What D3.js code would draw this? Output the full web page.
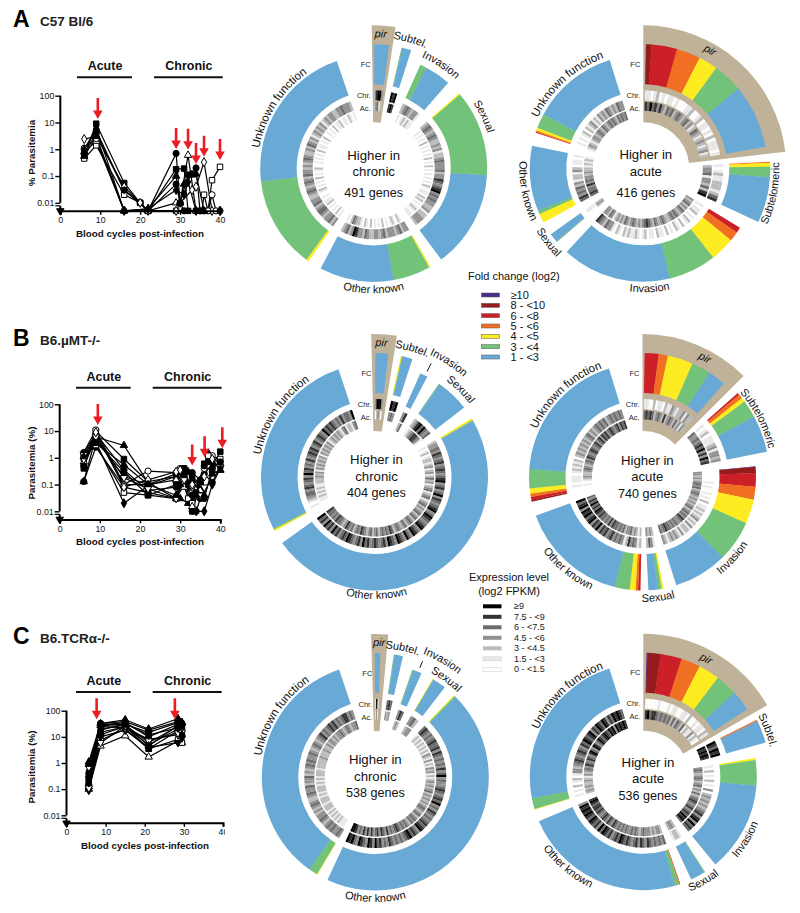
<!DOCTYPE html>
<html><head><meta charset="utf-8">
<script src="https://cdnjs.cloudflare.com/ajax/libs/d3/7.8.5/d3.min.js"></script>
<style>html,body{margin:0;background:#fff}svg{display:block;font-family:"Liberation Sans",Arial,sans-serif}</style>
</head><body><svg id="c" width="800" height="913"></svg>
<script>
// ---------- legends ----------
const foldLabels=["≥10","8 - <10","6 - <8","5 - <6","4 - <5","3 - <4","1 - <3"];
const foldColors=["#4b2c8e","#961b1f","#cc2028","#f16f23","#fcec21","#73c279","#69a9d6"];
const exprLabels=["≥9","7.5 - <9","6 - <7.5","4.5 - <6","3 - <4.5","1.5 - <3","0 - <1.5"];
const exprColors=["#000000","#333333","#6b6b6b","#909090","#bbbbbb","#e9e9e9","#ffffff"];

// ---------- gene-class sectors, one block per donut ----------
// starts in degrees clockwise from 12 o'clock; widths in degrees per fold class (≥10 ... 1-<3);
// Chr / Ac strings: expression class per stretch of the ring (0 = lowest, 6 = highest)
const aChrNames=["pir","Subtel.","Invasion","Sexual","Other known","Unknown function"];
const aChrStart=[0,13,24.3,48.7,150,215];
const aChrWidth=[[0,0,0,0,0,.3,6.8],[0,0,0,0,0,.4,4.2],[0,0,0,0,0,3.4,13.3],[0,0,0,0,.8,44,50],[0,0,0,0,.8,19,38.1],[0,0,0,0,1.4,46.9,77.7]];
const aChrPush=[7,7,0,0,0,0];
const aChrChr=["25663","656","23432331","23432343223231223433342335434563434332231223332","33243233324323322342335632432","324332344324332234323432433232343223243231232323123233223343332"];
const aChrAc=["23412","565","10121211","01010102010101020102010101010210110212010121011","01201210102010102012012234201","102010102110100120101020101200101010201101020010102011201102101"];
const aChrLabelAngle=[3,16,33,64.8,180,302.5];
const aChrLabelR=[131,131,121,119,125,116];

const aAcuNames=["pir","Subtelomeric","Invasion","Sexual","Other known","Unknown function"];
const aAcuStart=[1.2,87,121.6,229.5,241.5,288.3];
const aAcuWidth=[[0,2.6,12,11.2,9,14,30],[0,0,0,.5,1.8,4.7,21],[0,0,2.8,5,12.5,24.5,56],[0,0,0,0,0,.5,4.5],[0,0,0,0,4.8,1.7,33.5],[0,0,.4,.8,1.5,7.5,44.3]];
const aAcuPush=[7,9,0,0,0,0];
const aAcuChr=["11012010110100011200120110102011101","1012112221245","1011201021020120102011201102101211212012013342345","011","4534342312213201101","010101202123121323243232433"];
const aAcuAc=["54645353243423432342312432123212312","233413324256","3234232432343432234323423454323234323423232134233","232","4544353433232212121","123212332343243234343243434"];
const aAcuLabelAngle=[29.5,101,177,232,259,318];
const aAcuLabelR=[132,136,124,124,124,117];

const bChrNames=["pir","Subtel.","Invasion","Sexual","Other known","Unknown function"];
const bChrStart=[.3,12.3,23.8,34.6,58.9,241.6];
const bChrWidth=[[0,0,0,0,0,.4,5.7],[0,0,0,0,.5,.3,4.7],[0,0,0,0,0,0,4],[0,0,0,0,0,.5,17.1],[0,0,0,0,1,.4,174.2],[0,0,0,0,.8,.8,98.3]];
const bChrPush=[7,7,0,0,0,0];
const bChrChr=["36663","656","35","235646434","2334354345345434563453463543456346543456345634634563456354345435463543456454354635463546","01012344354345364534353454534534543645454343534436"];
const bChrAc=["02320","343","24","123455431","1012012212312312423123412341234232342342343243234324534343243243234534324345323445343445","00112121211222323132323231323232312323232134122134"];
const bChrLabelAngle=[3,16.4,33,44.5,179,303.5];
const bChrLabelR=[131,131,134,120,122,116];
const bChrPointer=[26.5,118,127];

const bAcuNames=["pir","Subtelomeric","Invasion","Sexual","Other known","Unknown function"];
const bAcuStart=[1,48.6,84.6,169.3,181,257.4];
const bAcuWidth=[[0,0,6.5,4.3,12,8.8,8.4],[0,0,.9,2,2,8,17],[.2,3.2,6.9,6.6,12.5,21,27.7],[0,0,0,0,1,1.7,5],[0,0,1.2,1.3,3,7.7,55.9],[0,.9,1.5,1.7,2.7,9.8,68.8]];
const bAcuPush=[7,9,0,0,0,0];
const bAcuChr=["1100201102113212231322","101201112313323","000001010010102011212123121312213123232123","1342","21343521343435435453645365465636546","0010111012121202323232323423234343423434343"];
const bAcuAc=["4545423432523432423132","433434546353645","3323234342343232323423434354334343445434","2323","21232433243434453534344545645464534","0010123223432343543454345345354534543453545"];
const bAcuLabelAngle=[27.6,63.2,132,172.6,219,317];
const bAcuLabelR=[131,129,125,125,124,116];

const cChrNames=["pir","Subtel.","Invasion","Sexual","Other known","Unknown function"];
const cChrStart=[-.2,8.6,19,30.3,43.9,210.6];
const cChrWidth=[[0,0,0,0,0,0,2.6],[0,0,0,0,0,.4,3.9],[0,0,0,0,0,.6,4.4],[0,0,0,0,.4,.1,7],[0,0,0,0,.5,.8,159.7],[0,0,0,0,.4,4.6,125.8]];
const cChrPush=[7,7,0,0,0,0];
const cChrChr=["0660","454","354","342","45434345445354343435346343345434546343543434545634546543434345343546356345634656","34334343234332323432234334233423234343343234323453434545343455343"];
const cChrAc=["0330","323","232","233","12121212121321312132312123232342323232343234234342343434543435345354353535343566","01112121212122212221212221212122212222232223223233232334323432334"];
const cChrLabelAngle=[1.6,12,30,36,180,303];
const cChrLabelR=[131,129,132,118,125,116];
const cChrPointer=[22.2,118,125];

const cAcuNames=["pir","Subtel.","Invasion","Sexual","Other known","Unknown function"];
const cAcuStart=[1.5,63.3,80.5,147,161,253.1];
const cAcuWidth=[[.4,6.1,10,9,10,10.4,9.6],[0,0,0,.7,0,0,10.4],[0,0,0,0,1,12.9,46.2],[0,0,0,0,0,.6,7.4],[0,0,.2,.4,0,2.2,83.1],[0,0,0,0,.4,5.5,83.6]];
const cAcuPush=[7,9,0,0,0,0];
const cAcuChr=["0000010001011001102001011021","654656","102010201030232323234535636454","1221","4343434534535434545645435456463545645656563","101020120133234543454354654563546546535465654"];
const cAcuAc=["5645543434342424324121131210","656565","343234323423242345434534546564","2332","2332323334323434334343434534534543454554565","232322321323435435435643653465456546563656565"];
const cAcuLabelAngle=[28,69.5,121.5,150,220,317];
const cAcuLabelR=[130,130,124,124,123,115];

// ---------- parasitemia series: [day, % parasitemia]; 0.005 = below detection ----------
const aLines=[
[[6,.6],[9,9],[16,.055],[20,.01],[22,.005],[29,.18],[31,.19],[32,.005],[34,.005]],
[[6,.45],[9,1.4],[16,.02],[20,.01],[22,.005],[29,.005],[35.5,.005],[36,.02],[37,.005],[38,.07],[40,.22]],
[[6,1],[9,5],[16,.03],[20,.01],[22,.005],[29,.7],[30,.01],[31,.005],[36,.005]],
[[6,.8],[9,2],[16,.005],[22,.005],[29,.01],[30,.01],[32,.6],[34,.005],[37,.005]],
[[6,2.4],[9,3],[16,.04],[20,.01],[22,.005],[29,.005],[30,.01],[33,.03],[34,.04],[36,.33],[38,.005],[40,.005]],
[[6,.7],[9,4],[16,.03],[22,.005],[29,.05],[30,.01],[32,.11],[33,.12],[34,.2],[35,.005]],
[[6,1.1],[9,2.5],[16,.005],[22,.005],[37,.005],[38,.02],[39,.005],[40,.005]],
[[6,1],[9,6],[16,.005],[22,.006],[29,.03],[31,.02],[32,.06],[34,.005],[40,.005]],
[[6,.55],[9,3],[16,.005],[22,.006],[29,.1],[30,.01],[31,.05],[33,.11],[34,.12],[36,.005]],
[[0,.005]]];
const aShapes=["S","s","H","t","d","C","c","D","T","V"];
const aArrowDays=[9.4,29,32,34,36,40];
const aArrowTips=[13.5,1.03,.95,.28,.52,.4];

const bLines=[
[[6,.13],[9,2.5],[16,.08],[22,.05],[29,.03],[31,.2],[33,.01],[34,.01],[35,.03],[36,.25],[38,.12],[40,.5]],
[[6,.13],[9,6],[16,2.9],[22,.12],[29,.03],[30,.03],[32,.02],[33,.15],[35,.05],[37,1.5],[40,.35]],
[[6,.4],[9,10],[16,.9],[22,.13],[29,.2],[31,.3],[33,.2],[35,.1],[36,.6],[38,.5],[40,1.7]],
[[6,1.6],[9,11],[16,.1],[22,.32],[29,.28],[30,.4],[31,.4],[33,.05],[36,.4],[38,1.2],[40,.5]],
[[6,.8],[9,4],[16,.02],[22,.09],[29,.2],[31,.15],[33,.03],[34,.01],[36,.01],[38,.1],[40,.4]],
[[6,1.2],[9,3],[16,.05],[22,.04],[29,.03],[31,.1],[32,.03],[33,.02],[35,.1],[37,1.2],[40,.9]],
[[6,.7],[9,7],[16,.1],[22,.1],[29,.15],[31,.08],[33,.015],[35,.06],[37,.5],[40,.6]],
[[6,1.5],[9,8],[16,.35],[22,.06],[29,.08],[31,.3],[33,.28],[35,.15],[36,.5],[38,.3]],
[[6,.5],[9,5],[16,.2],[22,.1],[29,.25],[31,.25],[33,.04],[34,.05],[36,.03],[38,.4],[40,.7]],
[[6,1],[9,4],[16,.3],[22,.04],[29,.1],[31,.4],[32,.1],[33,.01],[35,.1],[37,.7]],
[[6,1.3],[9,6],[16,.18],[22,.07],[29,.03],[31,.15],[33,.08],[35,.04],[36,.08]],
[[6,.9],[9,9],[16,.08],[22,.15],[29,.3],[30,.35],[33,.1],[36,.2],[38,.9]],
[[6,1.1],[9,3.5],[16,.55],[22,.1],[29,.04],[30,.1],[32,.3],[34,.04],[36,.04],[38,.25],[40,.35]],
[[0,.005]]];
const bShapes=["C","T","S","c","D","s","t","H","C","S","v","d","T","V"];
const bArrowDays=[9.5,33,36.1,40.5];
const bArrowTips=[16.8,.51,1.05,2.26];

const cLines=[
[[5.7,.1],[8.7,4.5],[15,11],[21,1.7],[28.5,7],[29.5,6]],
[[5.7,.2],[8.7,7.5],[15,20],[21,3.5],[28.5,8],[29.5,6]],
[[5.7,1.1],[8.7,32],[15,45],[21,20],[28.5,50],[29.5,35]],
[[5.7,.12],[8.7,12],[15,25],[21,3.5],[28.5,17],[29.5,12]],
[[5.7,.3],[8.7,28],[15,35],[21,10],[28.5,30],[29.5,33]],
[[5.7,.5],[8.7,20],[15,28],[21,6],[28.5,25],[29.5,20]],
[[5.7,.09],[8.7,10],[15,18],[21,4],[28.5,6],[29.5,9]],
[[5.7,.15],[8.7,30],[15,30],[21,15],[28.5,35],[29.5,28]],
[[5.7,.7],[8.7,25],[15,22],[21,8],[28.5,12],[29.5,18]],
[[5.7,.25],[8.7,15],[15,24],[21,5],[28.5,20],[29.5,25]],
[[5.7,.4],[8.7,33],[15,38],[21,18],[28.5,38],[29.5,30]],
[[5.7,.11],[8.7,6],[15,26],[21,7],[28.5,14],[29.5,15]],
[[5.7,.18],[8.7,18],[15,32],[21,12],[28.5,22],[29.5,12]],
[[5.7,.9],[8.7,27],[15,30],[21,4.5],[28.5,28],[29.5,35]],
[[0,.005]]];
const cShapes=["t","s","T","S","C","D","V","H","d","S","C","v","D","T","V"];
const cArrowDays=[7.7,27.7];
const cArrowTips=[47,47];

const xTicks=[0,10,20,30,40];
const yTicks=[100,10,1,.1,.01];

const svg=d3.select("#c");
const rad=d=>d*Math.PI/180;
let uid=0;

// ---------- donut ----------
function donut(cx,cy,names,starts,widths,push,chr,ac,labelAngles,labelRs,tanSpan,big,opt){
  const g=svg.append("g").attr("transform",`translate(${cx},${cy})`);
  const arc=d3.arc();
  g.append("path").attr("d",arc({innerRadius:46,outerRadius:143,startAngle:rad(tanSpan[0]),endAngle:rad(tanSpan[1])})).attr("fill","#c0b299");
  names.forEach((n,i)=>{
    const p=push[i];let a=starts[i];
    const span=d3.sum(widths[i]);
    widths[i].forEach((w,k)=>{
      if(!w)return;
      const ov=(a+w<starts[i]+span-.01)?.15:0;
      g.append("path").attr("d",arc({innerRadius:77+p,outerRadius:113.5+p*1.5,startAngle:rad(a),endAngle:rad(a+w+ov)})).attr("fill",foldColors[k]);
      a+=w;
    });
    [[chr[i],61+p,71+p],[ac[i],50.5+p,59.5+p]].forEach(([s,r0,r1])=>{
      const step=span/s.length;
      s.split("").forEach((ch,j)=>{
        g.append("path").attr("d",arc({innerRadius:r0,outerRadius:r1,startAngle:rad(starts[i]+j*step),endAngle:rad(starts[i]+(j+1)*step)+(j<s.length-1?.002:0)}))
          .attr("fill",exprColors[6-(+ch)]);
      });
    });
    // curved label
    const la=labelAngles[i],lr=labelRs[i],flip=la>90&&la<270,sweepSpan=70;
    const a0=rad(la+(flip?sweepSpan:-sweepSpan)),a1=rad(la+(flip?-sweepSpan:sweepSpan));
    const id="lp"+(uid++);
    g.append("path").attr("id",id).attr("fill","none")
      .attr("d",`M${lr*Math.sin(a0)},${-lr*Math.cos(a0)}A${lr},${lr} 0 0 ${flip?0:1} ${lr*Math.sin(a1)},${-lr*Math.cos(a1)}`);
    g.append("text").attr("font-size",n==="Unknown function"?11.5:11).attr("font-style",n==="pir"?"italic":"normal").attr("fill","#111")
      .attr("text-anchor","middle").append("textPath").attr("href","#"+id).attr("startOffset","50%").text(n);
  });
  if(opt&&opt.pointer){
    const [pa,p0,p1]=opt.pointer,t=rad(pa);
    g.append("line").attr("x1",p0*Math.sin(t)).attr("y1",-p0*Math.cos(t)).attr("x2",p1*Math.sin(t)).attr("y2",-p1*Math.cos(t)).attr("stroke","#111").attr("stroke-width",1);
  }
  [["FC",-104],["Chr.",-73],["Ac.",-60]].forEach(([t,dy])=>
    g.append("text").attr("x",-3).attr("y",dy).attr("dy",".35em").attr("text-anchor","end").attr("font-size",7.5).attr("fill","#222").text(t));
  big.lines.forEach((t,k)=>g.append("text").attr("x",big.x).attr("y",big.ys[k]).attr("text-anchor","middle")
     .attr("font-size",k===2?12.6:13.2).attr("fill","#111").text(t));
}
donut(373.7,168.3,aChrNames,aChrStart,aChrWidth,aChrPush,aChrChr,aChrAc,aChrLabelAngle,aChrLabelR,[-.8,8.8],{lines:["Higher in","chronic","491 genes"],x:0,ys:[-8,8,29]});
donut(643.3,168.3,aAcuNames,aAcuStart,aAcuWidth,aAcuPush,aAcuChr,aAcuAc,aAcuLabelAngle,aAcuLabelR,[0,83.4],{lines:["Higher in","acute","416 genes"],x:2.5,ys:[-9,7.5,28.5]});
donut(374.5,477,bChrNames,bChrStart,bChrWidth,bChrPush,bChrChr,bChrAc,bChrLabelAngle,bChrLabelR,[-1.3,9],{lines:["Higher in","chronic","404 genes"],x:2,ys:[-13,3.7,20.3]},{pointer:bChrPointer});
donut(642.5,477,bAcuNames,bAcuStart,bAcuWidth,bAcuPush,bAcuChr,bAcuAc,bAcuLabelAngle,bAcuLabelR,[0,45],{lines:["Higher in","acute","740 genes"],x:4.8,ys:[-12,4,20.7]});
donut(375.3,777,cChrNames,cChrStart,cChrWidth,cChrPush,cChrChr,cChrAc,cChrLabelAngle,cChrLabelR,[-1.7,5.2],{lines:["Higher in","chronic","538 genes"],x:0,ys:[-13,3.7,20.3]},{pointer:cChrPointer});
donut(643.3,776.7,cAcuNames,cAcuStart,cAcuWidth,cAcuPush,cAcuChr,cAcuAc,cAcuLabelAngle,cAcuLabelR,[0,60],{lines:["Higher in","acute","536 genes"],x:4.7,ys:[-10,6.6,23.3]});

// ---------- line panels ----------
function marker(g,x,y,code){
  const u=code.toLowerCase(),filled=code!==u;
  const type={s:d3.symbolSquare,c:d3.symbolCircle,t:d3.symbolTriangle,d:d3.symbolDiamond,v:d3.symbolTriangle,h:d3.symbolCircle}[u];
  const size={s:30,c:30,t:24,d:24,v:24,h:30}[u];
  g.append("path").attr("d",d3.symbol().type(type).size(size)())
   .attr("transform",`translate(${x},${y})`+(u==="v"?" rotate(180)":""))
   .attr("fill",filled?"#000":"#fff").attr("stroke","#000").attr("stroke-width",1);
}
function panel(p){
  const g=svg.append("g");
  const x=d3.scaleLinear().domain([0,40]).range([p.x0,p.x40]);
  const y=d3.scaleLog().domain([.01,100]).range([p.y01,p.y100]);
  const base=p.axisY;
  g.append("text").attr("x",13).attr("y",p.letterY).attr("font-size",23).attr("font-weight","bold").attr("fill","#000").text(p.letter);
  g.append("text").attr("x",40).attr("y",p.titleY).attr("font-size",13.5).attr("font-weight","bold").attr("fill","#222").text(p.title);
  [["Acute",p.acute],["Chronic",p.chronic]].forEach(([t,b])=>{
    g.append("text").attr("x",(b[0]+b[1])/2+.5).attr("y",p.barY-7).attr("text-anchor","middle").attr("font-size",12.5).attr("font-weight","bold").attr("fill","#111").text(t);
    g.append("line").attr("x1",b[0]).attr("x2",b[1]).attr("y1",p.barY).attr("y2",p.barY).attr("stroke","#111").attr("stroke-width",2);
  });
  p.lines.forEach((l,i)=>{
    g.append("path").attr("d",d3.line().x(d=>x(d[0])).y(d=>y(d[1]))(l)).attr("fill","none").attr("stroke","#000").attr("stroke-width",1.2);
  });
  p.lines.forEach((l,i)=>l.forEach(d=>marker(g,x(d[0]),y(d[1]),p.shapes[i])));
  // axes
  const yA=g.append("g").attr("transform",`translate(${p.x0},0)`)
    .call(d3.axisLeft(y).tickValues(yTicks).tickFormat(d=>d).tickSize(5).tickPadding(1));
  yA.select(".domain").attr("stroke-width",2).attr("d",`M0,${y(100)}V${y(.01)}`);
  yA.selectAll("line").attr("stroke-width",1.4);
  yA.selectAll("text").attr("font-size",8.8).attr("font-family","Liberation Sans").attr("fill","#111");
  g.append("line").attr("x1",p.x0-5).attr("x2",p.x0).attr("y1",y(.01)+3).attr("y2",y(.01)+3).attr("stroke","#000").attr("stroke-width",1.2);
  g.append("line").attr("x1",p.x0).attr("x2",p.x0).attr("y1",y(.01)+3).attr("y2",base).attr("stroke","#000").attr("stroke-width",2);
  const xScaleAxis=d3.axisBottom(x).tickValues(xTicks).tickSize(4).tickPadding(2);
  const xA=g.append("g").attr("transform",`translate(0,${base})`).call(xScaleAxis);
  xA.select(".domain").attr("stroke-width",2);
  xA.selectAll("line").attr("stroke-width",1.4);
  xA.selectAll("text").attr("font-size",8.8).attr("font-family","Liberation Sans").attr("fill","#111");
  if(p.clipX){
    const id="clip"+p.letter;
    svg.append("clipPath").attr("id",id).append("rect").attr("x",0).attr("y",0).attr("width",p.clipX).attr("height",913);
    g.attr("clip-path",`url(#${id})`);
  }
  g.append("text").attr("x",p.xTitleX).attr("y",p.xTitleY).attr("text-anchor","middle").attr("font-size",9.8).attr("font-weight","bold").attr("fill","#111").text("Blood cycles post-infection");
  g.append("text").attr("transform",`translate(35,${p.yTitleC}) rotate(-90)`).attr("text-anchor","middle").attr("font-size",9.8).attr("font-weight","bold").attr("fill","#111").text(p.yTitle);
  // arrows
  p.arrowDays.forEach((d,i)=>{
    const ax=x(d),ay=y(p.arrowTips[i]);
    g.append("path").attr("d",`M${ax-1.3},${ay-21}H${ax+1.3}V${ay-8.5}H${ax+4.8}L${ax},${ay}L${ax-4.8},${ay-8.5}H${ax-1.3}Z`).attr("fill","#ec1c24");
  });
}
panel({letter:"A",letterY:27,title:"C57 Bl/6",titleY:25.5,x0:60.3,x40:220,y100:95.7,y01:202.8,axisY:210.8,barY:77.3,acute:[77,132],chronic:[154,222.7],
  lines:aLines,shapes:aShapes,arrowDays:aArrowDays,arrowTips:aArrowTips,xTitleX:140,xTitleY:236.5,yTitle:"% Parasitemia",yTitleC:153});
panel({letter:"B",letterY:346,title:"B6.µMT-/-",titleY:345,x0:59.7,x40:220.3,y100:404.3,y01:511.3,axisY:519.4,barY:387.7,acute:[76,130.7],chronic:[152.7,221.7],
  lines:bLines,shapes:bShapes,arrowDays:bArrowDays,arrowTips:bArrowTips,xTitleX:140,xTitleY:545,yTitle:"Parasitemia (%)",yTitleC:463});
panel({letter:"C",letterY:644,title:"B6.TCRα-/-",titleY:643,x0:66.5,x40:223,y100:710.7,y01:815.3,axisY:822.8,barY:692,acute:[76,130.7],chronic:[152.7,221.7],
  lines:cLines,shapes:cShapes,arrowDays:cArrowDays,arrowTips:cArrowTips,xTitleX:145,xTitleY:849,yTitle:"Parasitemia (%)",yTitleC:767,clipX:225});

// ---------- legends ----------
svg.append("text").attr("x",468).attr("y",280).attr("font-size",11).attr("fill","#111").text("Fold change (log2)");
const foldY=d3.scalePoint().domain(foldLabels).range([295,357]);
foldLabels.forEach((t,i)=>{
  svg.append("rect").attr("x",481.5).attr("y",foldY(t)-2).attr("width",18).attr("height",4).attr("fill",foldColors[i]).attr("stroke","#555").attr("stroke-width",.5);
  svg.append("text").attr("x",510.5).attr("y",foldY(t)+4).attr("font-size",11).attr("fill","#111").text(t);
});
svg.append("text").attr("x",509).attr("y",581).attr("text-anchor","middle").attr("font-size",11).attr("fill","#111").text("Expression level");
svg.append("text").attr("x",509).attr("y",594.5).attr("text-anchor","middle").attr("font-size",11).attr("fill","#111").text("(log2 FPKM)");
const exprY=d3.scalePoint().domain(exprLabels).range([606.3,669.3]);
exprLabels.forEach((t,i)=>{
  svg.append("rect").attr("x",483).attr("y",exprY(t)-2).attr("width",18.5).attr("height",4).attr("fill",exprColors[i]).attr("stroke","#ccc").attr("stroke-width",i>4?.5:0);
  svg.append("text").attr("x",514).attr("y",exprY(t)+3).attr("font-size",9).attr("fill","#222").text(t);
});
</script></body></html>
